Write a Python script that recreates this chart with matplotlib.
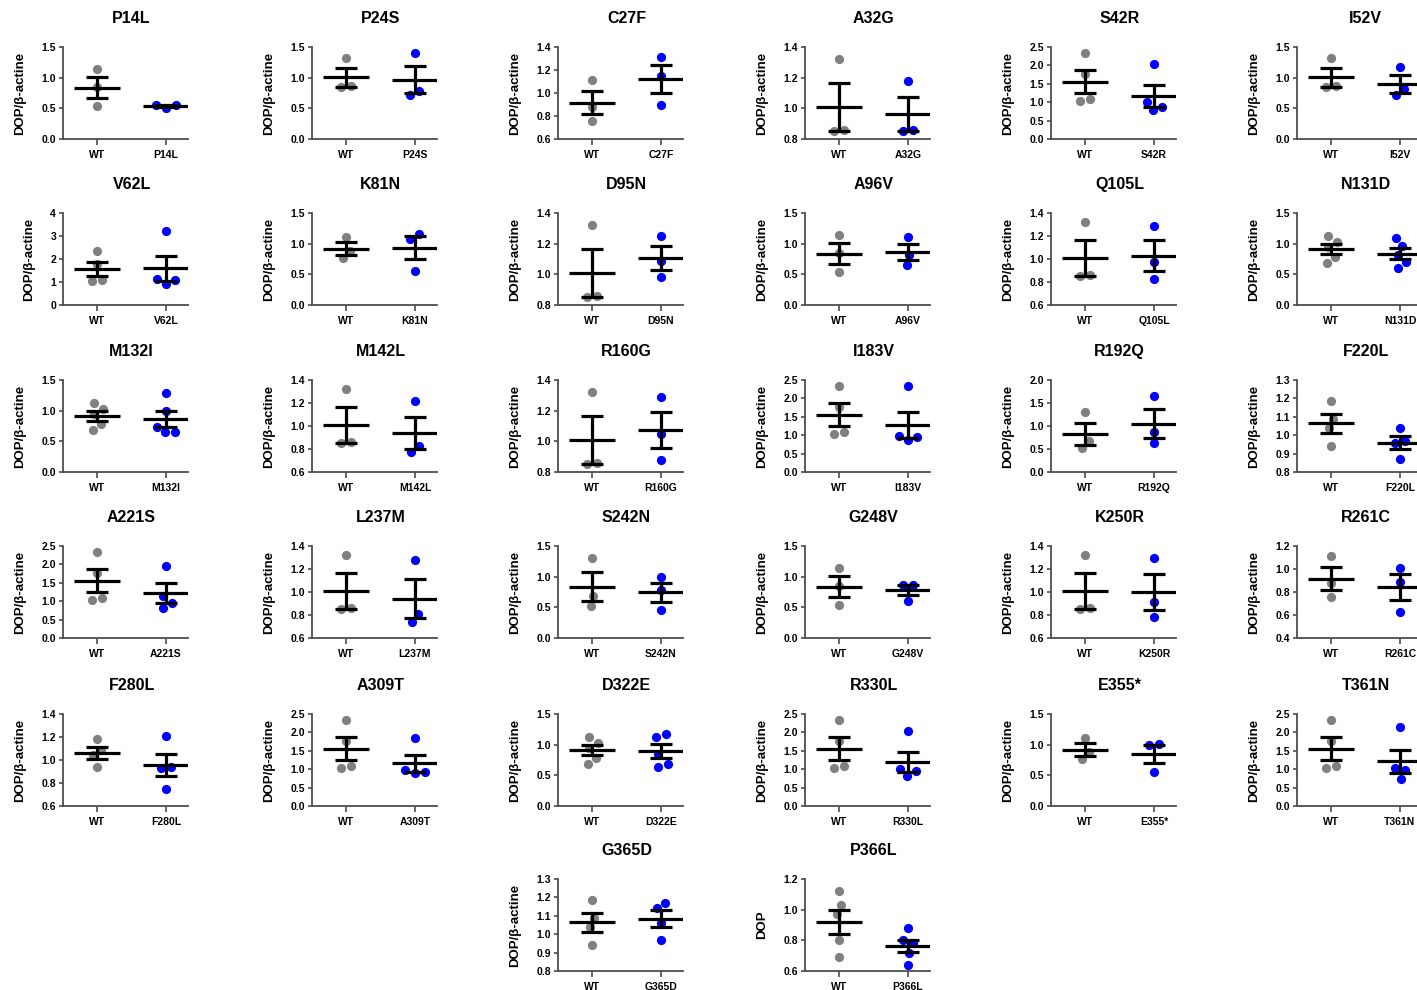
import numpy as np
import matplotlib
matplotlib.use('Agg')
import matplotlib.pyplot as plt

plt.rcParams['font.family'] = ['Liberation Sans', 'DejaVu Sans']
plt.rcParams['font.weight'] = 'bold'

# WT control groups (the same controls are reused across panels)
wt_a = [1.14, 0.84, 0.53]
wt_b = [1.32, 0.86, 0.85]
wt_c = [1.11, 0.88, 0.76]
wt_d = [2.33, 1.77, 1.09, 1.03]
wt_e = [1.03, 1.12, 0.95, 0.78, 0.68]
wt_f = [1.30, 0.68, 0.52]
wt_g = [1.185, 1.09, 1.04, 0.94]
wt_h = [1.12, 1.03, 0.97, 0.80, 0.69]

mutants = ['P14L', 'P24S', 'C27F', 'A32G', 'S42R', 'I52V',
           'V62L', 'K81N', 'D95N', 'A96V', 'Q105L', 'N131D',
           'M132I', 'M142L', 'R160G', 'I183V', 'R192Q', 'F220L',
           'A221S', 'L237M', 'S242N', 'G248V', 'K250R', 'R261C',
           'F280L', 'A309T', 'D322E', 'R330L', 'E355*', 'T361N',
           'G365D', 'P366L']

wt_values = [wt_a, wt_b, wt_c, wt_b, wt_d, wt_b,
             wt_d, wt_c, wt_b, wt_a, wt_b, wt_e,
             wt_e, wt_b, wt_b, wt_d, wt_f, wt_g,
             wt_d, wt_b, wt_f, wt_a, wt_b, wt_c,
             wt_g, wt_d, wt_e, wt_d, wt_c, wt_d,
             wt_g, wt_h]

mut_values = [
    [0.56, 0.51, 0.56],
    [1.41, 0.79, 0.71],
    [1.31, 1.15, 0.90],
    [1.18, 0.86, 0.85],
    [2.05, 1.00, 0.78, 0.87],
    [1.17, 0.81, 0.71],
    [3.23, 1.15, 0.92, 1.10],
    [1.16, 1.08, 0.56],
    [1.25, 1.09, 0.98],
    [1.11, 0.82, 0.66],
    [1.29, 0.97, 0.83],
    [1.10, 0.97, 0.82, 0.70, 0.60],
    [1.29, 0.99, 0.74, 0.65, 0.65],
    [1.22, 0.83, 0.77],
    [1.29, 1.05, 0.88],
    [2.33, 0.98, 0.86, 0.95],
    [1.66, 0.87, 0.63],
    [1.04, 0.97, 0.96, 0.87],
    [1.97, 1.15, 0.96, 0.81],
    [1.28, 0.81, 0.74],
    [1.00, 0.78, 0.46],
    [0.86, 0.87, 0.61],
    [1.30, 0.91, 0.78],
    [1.01, 0.89, 0.63],
    [1.21, 0.94, 0.93, 0.75],
    [1.84, 0.98, 0.90, 0.92],
    [1.18, 1.13, 0.84, 0.68, 0.64],
    [2.03, 1.00, 0.95, 0.82],
    [1.01, 0.99, 0.56],
    [2.14, 1.02, 0.99, 0.74],
    [1.17, 1.14, 1.06, 0.97],
    [0.88, 0.80, 0.78, 0.72, 0.64],
]

# y axis (min, max, step) of each panel
y_axes = [(0, 1.5, 0.5), (0, 1.5, 0.5), (0.6, 1.4, 0.2), (0.8, 1.4, 0.2), (0, 2.5, 0.5), (0, 1.5, 0.5),
          (0, 4, 1), (0, 1.5, 0.5), (0.8, 1.4, 0.2), (0, 1.5, 0.5), (0.6, 1.4, 0.2), (0, 1.5, 0.5),
          (0, 1.5, 0.5), (0.6, 1.4, 0.2), (0.8, 1.4, 0.2), (0, 2.5, 0.5), (0, 2.0, 0.5), (0.8, 1.3, 0.1),
          (0, 2.5, 0.5), (0.6, 1.4, 0.2), (0, 1.5, 0.5), (0, 1.5, 0.5), (0.6, 1.4, 0.2), (0.4, 1.2, 0.2),
          (0.6, 1.4, 0.2), (0, 2.5, 0.5), (0, 1.5, 0.5), (0, 2.5, 0.5), (0, 1.5, 0.5), (0, 2.5, 0.5),
          (0.8, 1.3, 0.1), (0.6, 1.2, 0.2)]

# layout in pixels
W, H = 1417, 990
col_left = [63, 312, 558, 805, 1051, 1297]
row_bottom = [139, 305, 472, 638, 806, 971]
AX_W, AX_H = 125, 92
XLIM = (-0.495, 1.32)
PX_PER_UNIT = AX_W / (XLIM[1] - XLIM[0])
DOT = 10.0
SPINE = '#4d4d4d'


def swarm(vals, lo, hi):
    # simple beeswarm in pixel space, clusters centred on the category
    y = (np.asarray(vals, float) - lo) / (hi - lo) * AX_H
    xs = np.zeros(len(y))
    steps = [0.0]
    for k in range(1, 80):
        steps += [k * 0.5, -k * 0.5]
    done = []
    order = np.argsort(y, kind='stable')
    for i in order:
        for s in steps:
            if all((s - xs[j]) ** 2 + (y[i] - y[j]) ** 2 >= DOT * DOT for j in done):
                xs[i] = s
                break
        done.append(i)
    start = 0
    for k in range(1, len(order) + 1):
        if k == len(order) or y[order[k]] - y[order[k - 1]] >= DOT:
            grp = order[start:k]
            xs[grp] -= xs[grp].mean()
            start = k
    return xs / PX_PER_UNIT


fig = plt.figure(figsize=(W / 100, H / 100), dpi=100)

for i, name in enumerate(mutants):
    if i < 30:
        row, col = divmod(i, 6)
    else:
        row, col = 5, i - 28
    ax = fig.add_axes([col_left[col] / W, 1 - row_bottom[row] / H, AX_W / W, AX_H / H])
    lo, hi, step = y_axes[i]

    for x, vals, c in [(0, wt_values[i], '#808080'), (1, mut_values[i], '#0000ff')]:
        v = np.asarray(vals)
        ax.scatter(x + swarm(v, lo, hi), v, s=44, color=c, linewidths=0, zorder=2, clip_on=False)
        m = v.mean()
        sem = v.std(ddof=1) / np.sqrt(len(v))
        ax.hlines(m, x - 0.335, x + 0.335, colors='k', linewidth=2.3, zorder=3)
        ax.errorbar([x], [m], yerr=[sem], fmt='none', ecolor='k', elinewidth=2.3,
                    capsize=7.9, capthick=2.3, zorder=3)

    ax.set_xlim(*XLIM)
    ax.set_ylim(lo, hi)
    ticks = np.arange(lo, hi + step / 2, step)
    ax.set_yticks(ticks)
    if step >= 1:
        ax.set_yticklabels(['%d' % t for t in ticks])
    else:
        ax.set_yticklabels(['%.1f' % t for t in ticks])
    ax.set_xticks([0, 1])
    ax.set_xticklabels(['WT', name])

    for s in ['top', 'right']:
        ax.spines[s].set_visible(False)
    for s in ['left', 'bottom']:
        ax.spines[s].set_color(SPINE)
        ax.spines[s].set_linewidth(1.3)
    ax.tick_params(axis='y', direction='out', length=3, width=1.2, color=SPINE,
                   labelsize=7.5, pad=2)
    ax.tick_params(axis='x', direction='out', length=4, width=1.2, color=SPINE,
                   labelsize=7.5, pad=4)

    ax.set_ylabel('DOP' if name == 'P366L' else 'DOP/β-actine', fontsize=9.5,
                  fontweight='bold', labelpad=11)
    ax.annotate(name, xy=(0.5, 1), xycoords=('data', 'axes fraction'),
                xytext=(0, 17), textcoords='offset points', ha='center', va='baseline',
                fontsize=11.5, fontweight='bold')

fig.savefig('out.png', dpi=100, facecolor='white')
